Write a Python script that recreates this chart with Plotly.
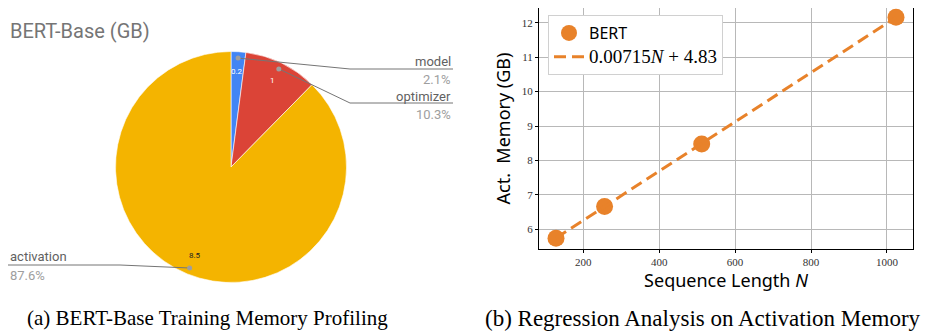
import math
import plotly.graph_objects as go

# ---------------- data ----------------
pie_title = "BERT-Base (GB)"
pie_labels = ["model", "optimizer", "activation"]
pie_values = [0.2, 1.0, 8.5]
pie_colors = ["#4285F4", "#DB4437", "#F4B400"]
pie_value_text = ["0.2", "1", "8.5"]

seq_len = [128, 256, 512, 1024]
act_mem = [5.74, 6.66, 8.48, 12.16]
fit_x = [128, 1024]
fit_y = [5.745, 12.152]
x_ticks = [200, 400, 600, 800, 1000]
y_ticks = [6, 7, 8, 9, 10, 11, 12]

caption_a = "(a) BERT-Base Training Memory Profiling"
caption_b = "(b) Regression Analysis on Activation Memory"

W, H = 929, 331
OFF = 8  # page body margin

def px(x):
    return (x - OFF) / W

def py(y):
    return min(1.0, 1 - (y - OFF) / H)

# pie geometry (pixels in the final picture)
cx, cy, R = 231.0, 167.0, 115.5

fig = go.Figure()

fig.add_trace(go.Pie(
    labels=pie_labels, values=pie_values, sort=False, direction="clockwise",
    rotation=0, marker=dict(colors=pie_colors, line=dict(color="white", width=0.6)),
    textinfo="none", hoverinfo="label+value+percent", showlegend=False,
    domain=dict(x=[px(cx - R), px(cx + R)], y=[py(cy + R), py(cy - R)]),
))

# scatter + fit
orange = "#E8822A"
fig.add_trace(go.Scatter(
    x=seq_len, y=act_mem, mode="markers", name="BERT",
    marker=dict(color=orange, size=17), xaxis="x", yaxis="y",
))
fig.add_trace(go.Scatter(
    x=fit_x, y=fit_y, mode="lines",
    name="<span style='font-family:Liberation Serif;font-size:19px'>0.00715<i>N</i> + 4.83</span>",
    line=dict(color=orange, width=3, dash="12px,6px"), xaxis="x", yaxis="y",
))

annotations = []
shapes = []

# title of pie
annotations.append(dict(x=px(8), y=py(31), xref="paper", yref="paper", text=pie_title,
                        showarrow=False, xanchor="left", yanchor="middle",
                        font=dict(family="Roboto", size=20, color="#757575")))

total = sum(pie_values)
cum = 0.0
mids = []
for v in pie_values:
    mids.append((cum + v / 2) / total * 2 * math.pi)
    cum += v

text_colors = ["white", "white", "#222222"]
for i, a in enumerate(mids):
    tx = cx + 0.83 * R * math.sin(a)
    ty = cy - 0.83 * R * math.cos(a)
    annotations.append(dict(x=px(tx), y=py(ty), xref="paper", yref="paper",
                            text=pie_value_text[i], showarrow=False,
                            xanchor="center", yanchor="middle",
                            font=dict(family="Roboto", size=8, color=text_colors[i])))

# leader lines / outside labels
label_layout = [
    # (elbow_x, line_y, end_x, anchor, name_y, pct_y)
    (350, 69, 453, "right", 61.5, 80),
    (350, 103, 453, "right", 96.5, 114.5),
    (120, 265, 8, "left", 256.5, 275),
]
for i, a in enumerate(mids):
    dx = cx + 0.945 * R * math.sin(a)
    dy = cy - 0.945 * R * math.cos(a)
    ex, ly, endx, anc, ny, pyy = label_layout[i]
    shapes.append(dict(type="line", xref="paper", yref="paper",
                       x0=px(dx), y0=py(dy), x1=px(ex), y1=py(ly),
                       line=dict(color="#757575", width=1)))
    shapes.append(dict(type="line", xref="paper", yref="paper",
                       x0=px(ex), y0=py(ly), x1=px(endx), y1=py(ly),
                       line=dict(color="#757575", width=1)))
    shapes.append(dict(type="circle", xref="paper", yref="paper",
                       x0=px(dx - 2.5), x1=px(dx + 2.5), y0=py(dy + 2.5), y1=py(dy - 2.5),
                       fillcolor="#9e9e9e", line=dict(width=0)))
    pct = f"{pie_values[i] / total * 100:.1f}%"
    annotations.append(dict(x=px(endx), y=py(ny), xref="paper", yref="paper",
                            text=pie_labels[i], showarrow=False, xanchor=anc, yanchor="middle",
                            font=dict(family="Roboto", size=13, color="#616161")))
    annotations.append(dict(x=px(endx), y=py(pyy), xref="paper", yref="paper",
                            text=pct, showarrow=False, xanchor=anc, yanchor="middle",
                            font=dict(family="Roboto", size=13, color="#9e9e9e")))

# captions
annotations.append(dict(x=px(207), y=py(318), xref="paper", yref="paper", text=caption_a,
                        showarrow=False, xanchor="center", yanchor="middle",
                        font=dict(family="Liberation Serif", size=21, color="black")))
annotations.append(dict(x=px(703), y=py(318), xref="paper", yref="paper", text=caption_b,
                        showarrow=False, xanchor="center", yanchor="middle",
                        font=dict(family="Liberation Serif", size=23, color="black")))

axis_common = dict(showline=True, linecolor="black", linewidth=1, mirror=True,
                   showgrid=True, gridcolor="#b8b8b8", gridwidth=1, zeroline=False,
                   ticks="outside", ticklen=3, tickcolor="black",
                   tickfont=dict(family="Liberation Serif", size=11, color="#333333"))

fig.update_layout(
    width=W, height=H, margin=dict(l=0, r=0, t=0, b=0),
    paper_bgcolor="white", plot_bgcolor="white",
    xaxis=dict(domain=[px(539), px(913)], range=[83.2, 1068.8], tickvals=x_ticks,
               title=dict(text="Sequence Length <i>N</i>", standoff=5,
                          font=dict(family="Noto Sans", size=18, color="black")),
               anchor="y", **axis_common),
    yaxis=dict(domain=[py(249), py(8)], range=[5.428, 12.427], tickvals=y_ticks,
               title=dict(text="Act.&nbsp; Memory (GB)", standoff=6,
                          font=dict(family="Noto Sans", size=18, color="black")),
               anchor="x", **axis_common),
    legend=dict(x=px(548), y=py(15), xanchor="left", yanchor="top",
                bgcolor="white", bordercolor="#d0d0d0", borderwidth=1,
                font=dict(family="Noto Sans", size=16, color="black"),
                tracegroupgap=2),
    annotations=annotations, shapes=shapes,
)

fig.write_html("out.html")
